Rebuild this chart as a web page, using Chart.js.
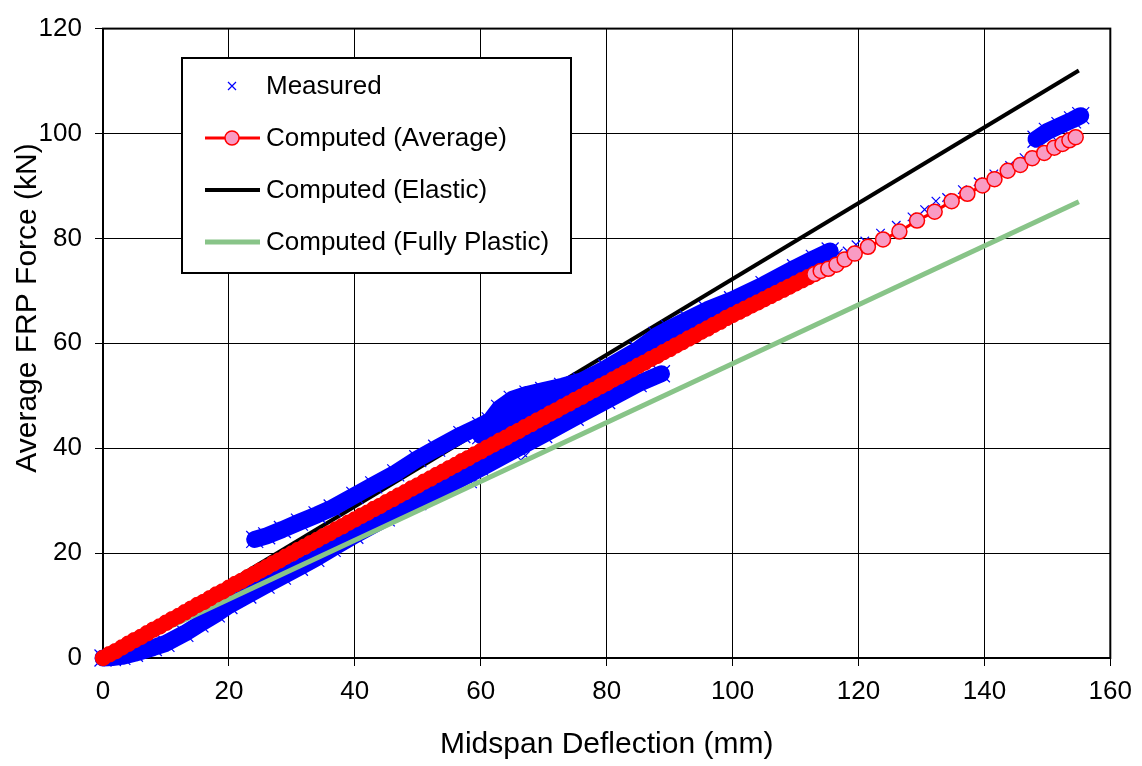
<!DOCTYPE html>
<html>
<head>
<meta charset="utf-8">
<script src="https://cdn.jsdelivr.net/npm/chart.js@4.4.1/dist/chart.umd.min.js"></script>
<style>
  html, body { margin: 0; padding: 0; background: #fff; }
  #chart { display: block; }
</style>
</head>
<body>
<canvas id="chart" width="1142" height="766"></canvas>
<script>
// Tick labels
const xTicks = [0, 20, 40, 60, 80, 100, 120, 140, 160];
const yTicks = [0, 20, 40, 60, 80, 100, 120];

// Measured: dense bands (null = break between loading branches)
const measuredX = [
  0, 1.5, 3, 5, 8, 10, 13, 15.4, 18, 20, 23, 25.9, 28.5, 31.2, 33.8, 36.4, 40, 45, 50, 55, 60, 65, 70, 75, 80, 85, 88.7, null,
  24.1, 26, 28.5, 31.2, 34, 36.4, 40, 43, 46.5, 50, 53, 57, 60, 61.5, 63, 65, 67.5, 70, 73, 76, 80, 85, 88, 90, 93, 96, 100, 105, 110, 113, 115.5, null,
  60, 63, 66, 70, 73, 76, 80, 85, 88, 92, 96, 99, null,
  148.2, 150, 152, 154, 155.3
];
const measuredY = [
  0, 0.1, 0.3, 0.9, 2.0, 2.8, 4.7, 6.5, 8.4, 10.0, 12.0, 13.9, 15.6, 17.3, 19.0, 20.9, 23.4, 26.7, 29.8, 33.0, 36.2, 39.4, 42.6, 45.9, 49.1, 52.3, 54.2, null,
  22.6, 23.3, 24.5, 25.9, 27.3, 28.6, 31.0, 33.0, 35.3, 38.0, 40.0, 42.6, 44.3, 45.2, 47.6, 49.3, 50.3, 51.0, 51.8, 52.8, 55.3, 58.8, 61.5, 62.8, 64.6, 66.4, 68.3, 71.2, 74.4, 76.2, 77.6, null,
  42.4, 44.3, 46.4, 49.0, 50.5, 52.2, 54.6, 57.6, 59.8, 62.2, 64.4, 66.2, null,
  98.9, 100.4, 101.5, 102.6, 103.4
];
// Measured: scattered single readings
const measuredSparseX = [116.8, 118.2, 119.6, 121, 123.5, 126, 128.5, 130.5, 132.3, 134, 136.5, 139, 141.5, 144, 146.3, 58.7, 67.1];
const measuredSparseY = [77.2, 77.6, 78.8, 79.5, 81.0, 82.5, 84.1, 85.5, 87.1, 87.8, 89.3, 90.8, 92.3, 93.9, 95.4, 33.2, 38.6];

// Computed (Average)
const avgX = [
  0, 1, 2, 3, 4, 5, 6, 7, 8, 9,
  10, 11, 12, 13, 14, 15, 16, 17, 18, 19,
  20, 21, 22, 23, 24, 25, 26, 27, 28, 29,
  30, 31, 32, 33, 34, 35, 36, 37, 38, 39,
  40, 41, 42, 43, 44, 45, 46, 47, 48, 49,
  50, 51, 52, 53, 54, 55, 56, 57, 58, 59,
  60, 61, 62, 63, 64, 65, 66, 67, 68, 69,
  70, 71, 72, 73, 74, 75, 76, 77, 78, 79,
  80, 81, 82, 83, 84, 85, 86, 87, 88, 89,
  90, 91, 92, 93, 94, 95, 96, 97, 98, 99,
  100, 101, 102, 103, 104, 105, 106, 107, 108, 109,
  110, 111, 112, 113, 114,
  115.2, 116.5, 117.8, 119.4, 121.5, 123.9, 126.5, 129.3, 132.1, 134.8, 137.3,
  139.7, 141.6, 143.7, 145.7, 147.6, 149.5, 151.1, 152.4, 153.5, 154.5
];
const avgY = [
  0, 0.7, 1.3, 2.0, 2.7, 3.4, 4.0, 4.7, 5.4, 6.0,
  6.7, 7.4, 8.0, 8.7, 9.4, 10.1, 10.7, 11.4, 12.1, 12.7,
  13.4, 14.1, 14.7, 15.4, 16.0, 16.7, 17.3, 18.0, 18.6, 19.3,
  19.9, 20.6, 21.2, 21.9, 22.5, 23.2, 23.8, 24.5, 25.1, 25.8,
  26.4, 27.1, 27.7, 28.4, 29.0, 29.7, 30.3, 31.0, 31.6, 32.3,
  32.9, 33.6, 34.2, 34.9, 35.5, 36.2, 36.8, 37.5, 38.1, 38.8,
  39.4, 40.1, 40.7, 41.4, 42.0, 42.7, 43.3, 44.0, 44.6, 45.3,
  45.9, 46.6, 47.2, 47.9, 48.5, 49.2, 49.8, 50.5, 51.1, 51.8,
  52.4, 53.1, 53.7, 54.4, 55.0, 55.7, 56.3, 57.0, 57.6, 58.3,
  58.9, 59.6, 60.2, 60.9, 61.5, 62.2, 62.8, 63.5, 64.1, 64.8,
  65.4, 66.0, 66.6, 67.2, 67.8, 68.4, 69.0, 69.6, 70.2, 70.8,
  71.4, 72.0, 72.6, 73.2, 73.8,
  74.2, 75.0, 76.0, 77.1, 78.4, 79.8, 81.3, 83.4, 85.1, 87.1, 88.5,
  90.1, 91.3, 92.9, 94.0, 95.3, 96.3, 97.3, 98.0, 98.7, 99.3
];

// Computed (Elastic) and Computed (Fully Plastic)
const elasticX = [0, 155];
const elasticY = [0, 112];
const plasticX = [0, 155];
const plasticY = [0, 87];

const FONT = '"Liberation Sans", Arial, sans-serif';
const BLUE = '#0000ff';
const RED = '#ff0000';
const PINK = '#f99bc3';
const GREEN = '#88c488';
const Y_TITLE = 'Average FRP Force (kN)';

const pts = (xs, ys) => xs.map((x, i) => ({ x: x, y: ys[i] }));

// plot frame under the data
const frame = {
  id: 'frame',
  beforeDatasetsDraw(chart) {
    const { ctx, chartArea: a } = chart;
    ctx.save();
    ctx.lineWidth = 2;
    ctx.strokeStyle = '#000';
    ctx.strokeRect(a.left, a.top, a.right - a.left, a.bottom - a.top);
    ctx.restore();
  }
};

// y axis title sits a bit above the plot centre in the original
const yTitle = {
  id: 'yTitle',
  afterDraw(chart) {
    const ctx = chart.ctx;
    ctx.save();
    ctx.translate(28, 308);
    ctx.rotate(-Math.PI / 2);
    ctx.font = '30px ' + FONT;
    ctx.fillStyle = '#000';
    ctx.textAlign = 'center';
    ctx.textBaseline = 'middle';
    ctx.fillText(Y_TITLE, 0, 0);
    ctx.restore();
  }
};

// boxed legend inside the plot
const boxLegend = {
  id: 'boxLegend',
  afterDatasetsDraw(chart) {
    const ctx = chart.ctx;
    const items = chart.data.datasets.filter(d => d.inLegend);
    ctx.save();
    ctx.fillStyle = '#fff';
    ctx.fillRect(182, 58, 389, 215);
    ctx.lineWidth = 2;
    ctx.strokeStyle = '#000';
    ctx.strokeRect(182, 58, 389, 215);
    ctx.font = '26px ' + FONT;
    ctx.textBaseline = 'middle';
    items.forEach((d, i) => {
      const y = 86 + i * 52;
      if (d.legendLine) {
        ctx.beginPath();
        ctx.moveTo(205, y);
        ctx.lineTo(260, y);
        ctx.lineWidth = d.legendLine;
        ctx.strokeStyle = d.borderColor;
        ctx.stroke();
      }
      if (d.legendMarker === 'circle') {
        ctx.beginPath();
        ctx.arc(232, y, 7, 0, Math.PI * 2);
        ctx.fillStyle = PINK;
        ctx.fill();
        ctx.lineWidth = 1.5;
        ctx.strokeStyle = RED;
        ctx.stroke();
      } else if (d.legendMarker === 'cross') {
        ctx.beginPath();
        ctx.moveTo(228, y - 4); ctx.lineTo(236, y + 4);
        ctx.moveTo(236, y - 4); ctx.lineTo(228, y + 4);
        ctx.lineWidth = 1.2;
        ctx.strokeStyle = BLUE;
        ctx.stroke();
      }
      ctx.fillStyle = '#000';
      ctx.fillText(d.label, 266, y + 1);
    });
    ctx.restore();
  }
};

new Chart(document.getElementById('chart'), {
  type: 'line',
  data: {
    datasets: [
      {
        label: 'Measured',
        data: pts(measuredX, measuredY),
        inLegend: true, legendMarker: 'cross',
        borderColor: BLUE,
        borderWidth: 17,
        borderCapStyle: 'round',
        borderJoinStyle: 'round',
        pointStyle: 'crossRot',
        pointRadius: 12,
        pointBorderWidth: 1.2,
        pointBorderColor: BLUE,
        spanGaps: false,
        order: 3
      },
      {
        label: 'Measured',
        data: pts(measuredSparseX, measuredSparseY),
        showLine: false,
        pointStyle: 'crossRot',
        pointRadius: 6,
        pointBorderWidth: 1.2,
        pointBorderColor: BLUE,
        order: 2
      },
      {
        label: 'Computed (Average)',
        data: pts(avgX, avgY),
        inLegend: true, legendLine: 3, legendMarker: 'circle',
        borderColor: RED,
        borderWidth: 3,
        pointRadius: 7.5,
        pointBorderWidth: 1.5,
        pointBorderColor: RED,
        pointBackgroundColor: c => (c.raw && c.raw.x > 112) ? PINK : RED,
        order: 0
      },
      {
        label: 'Computed (Elastic)',
        data: pts(elasticX, elasticY),
        inLegend: true, legendLine: 4,
        borderColor: '#000',
        borderWidth: 4,
        pointRadius: 0,
        order: 4
      },
      {
        label: 'Computed (Fully Plastic)',
        data: pts(plasticX, plasticY),
        inLegend: true, legendLine: 5,
        borderColor: GREEN,
        borderWidth: 5,
        pointRadius: 0,
        order: 1
      }
    ]
  },
  options: {
    responsive: false,
    animation: false,
    devicePixelRatio: 1,
    clip: false,
    layout: { padding: { top: 19, right: 29, left: 0, bottom: 0 } },
    plugins: {
      legend: { display: false },
      tooltip: { enabled: false }
    },
    scales: {
      x: {
        type: 'linear',
        min: 0,
        max: 160,
        afterBuildTicks: s => { s.ticks = xTicks.map(v => ({ value: v })); },
        afterFit: s => { s.height = 108; },
        grid: { color: '#000', lineWidth: 1, tickLength: 8 },
        border: { display: false },
        ticks: { color: '#000', font: { size: 26, family: FONT }, padding: 10, maxRotation: 0 },
        title: {
          display: true,
          text: 'Midspan Deflection (mm)',
          color: '#000',
          font: { size: 30, family: FONT },
          padding: { top: 0, bottom: 3 }
        }
      },
      y: {
        type: 'linear',
        min: 0,
        max: 120,
        afterBuildTicks: s => { s.ticks = yTicks.map(v => ({ value: v })); },
        afterFit: s => { s.width = 103; },
        grid: { color: '#000', lineWidth: 1, tickLength: 8 },
        border: { display: false },
        ticks: { color: '#000', font: { size: 26, family: FONT }, padding: 13 },
        title: { display: false }
      }
    }
  },
  plugins: [frame, boxLegend, yTitle]
});
</script>
</body>
</html>
